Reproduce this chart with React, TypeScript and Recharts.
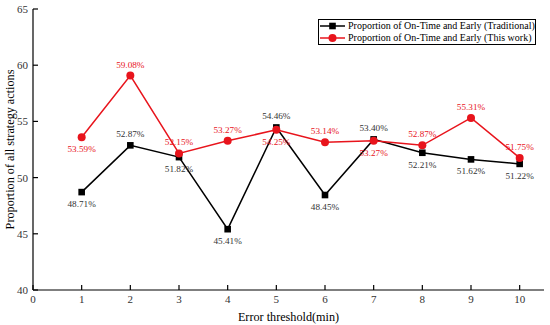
import React from 'react';
import { LineChart, Line, XAxis, YAxis, Legend } from 'recharts';

const thresholds = [1, 2, 3, 4, 5, 6, 7, 8, 9, 10];
const traditional = [48.71, 52.87, 51.82, 45.41, 54.46, 48.45, 53.4, 52.21, 51.62, 51.22];
const thisWork = [53.59, 59.08, 52.15, 53.27, 54.25, 53.14, 53.27, 52.87, 55.31, 51.75];
const traditionalLabelSide = ['below', 'above', 'below', 'below', 'above', 'below', 'above', 'below', 'below', 'below'];
const thisWorkLabelSide = ['below', 'above', 'above', 'above', 'below', 'above', 'below', 'above', 'above', 'above'];
const xTicks = [0, 1, 2, 3, 4, 5, 6, 7, 8, 9, 10];
const yTicks = [40, 45, 50, 55, 60, 65];
const seriesNames = ['Proportion of On-Time and Early (Traditional)', 'Proportion of On-Time and Early (This work)'];

const data = thresholds.map((t, i) => ({ t, trad: traditional[i], work: thisWork[i] }));

const RED = '#e8141c';
const FONT = 'Liberation Serif, DejaVu Serif, serif';

const makeLabel = (sides: string[], color: string) => (props: any) => {
  const { x, y, index, value } = props;
  const above = sides[index] === 'above';
  return (
    <text
      x={x}
      y={above ? y - 8 : y + 15}
      textAnchor="middle"
      fontSize={9.2}
      style={{ fontFamily: FONT }}
      fill={color}
    >
      {Number(value).toFixed(2)}%
    </text>
  );
};

const SquareDot = (props: any) => {
  const { cx, cy } = props;
  if (cx == null || cy == null) return null;
  return <rect x={cx - 3.3} y={cy - 3.3} width={6.6} height={6.6} fill="#000" />;
};

const CircleDot = (props: any) => {
  const { cx, cy } = props;
  if (cx == null || cy == null) return null;
  return <circle cx={cx} cy={cy} r={4} fill={RED} />;
};

const LegendContent = () => (
  <div
    style={{
      border: '1px solid #000',
      background: '#fff',
      fontFamily: FONT,
      fontSize: 10,
      padding: '0px 2px 0px 1px',
      lineHeight: '12px',
      width: 218,
      height: 26,
      boxSizing: 'border-box',
    }}
  >
    {[0, 1].map((i) => (
      <div key={i} style={{ display: 'flex', alignItems: 'center', whiteSpace: 'nowrap', height: 12 }}>
        <svg width={25} height={12} style={{ marginRight: 3, flex: 'none' }}>
          <line x1={0} y1={6} x2={25} y2={6} stroke={i === 0 ? '#000' : RED} strokeWidth={1.5} />
          {i === 0 ? (
            <rect x={9.2} y={2.7} width={6.6} height={6.6} fill="#000" />
          ) : (
            <circle cx={12.5} cy={6} r={4} fill={RED} />
          )}
        </svg>
        <span style={{ color: '#000' }}>{seriesNames[i]}</span>
      </div>
    ))}
  </div>
);

const tickStyle = { fill: '#333', fontSize: 11, style: { fontFamily: FONT } } as any;

export default function App() {
  return (
    <div style={{ position: 'absolute', left: 0, top: 0, background: '#fff', fontFamily: FONT }}>
      <LineChart
        width={550}
        height={325}
        data={data}
        margin={{ top: 9, right: 6, bottom: 0, left: 0 }}
        style={{ fontFamily: FONT }}
      >
        <XAxis
          xAxisId="b"
          dataKey="t"
          type="number"
          domain={[0, 10.5]}
          ticks={xTicks}
          interval={0}
          tickSize={-5}
          tickMargin={10}
          height={35}
          stroke="#000"
          strokeWidth={1.2}
          tick={tickStyle}
          label={{ value: 'Error threshold(min)', position: 'insideBottom', offset: 4, fill: '#000', fontSize: 12.2, style: { fontFamily: FONT } }}
        />
        <XAxis
          xAxisId="t"
          dataKey="t"
          type="number"
          orientation="top"
          domain={[0, 10.5]}
          ticks={xTicks}
          interval={0}
          tickSize={-5}
          height={0}
          stroke="#000"
          strokeWidth={1.2}
          tickFormatter={() => ''}
        />
        <YAxis
          yAxisId="l"
          type="number"
          domain={[40, 65]}
          ticks={yTicks}
          interval={0}
          tickSize={-5}
          tickMargin={10}
          width={33}
          stroke="#000"
          strokeWidth={1.2}
          tick={tickStyle}
          label={{ value: 'Proportion of all strategy actions', angle: -90, position: 'insideLeft', offset: 0, dx: 10, fill: '#000', fontSize: 12.2, style: { fontFamily: FONT, textAnchor: 'middle' } }}
        />
        <YAxis
          yAxisId="r"
          type="number"
          orientation="right"
          domain={[40, 65]}
          ticks={yTicks}
          interval={0}
          tickSize={-5}
          width={0}
          stroke="#000"
          strokeWidth={1.2}
          tickFormatter={() => ''}
        />
        <Legend
          verticalAlign="middle"
          align="center"
          layout="horizontal"
          content={<LegendContent />}
          wrapperStyle={{ position: 'absolute', top: 19, left: 318, width: 218 }}
        />
        <Line
          xAxisId="b"
          yAxisId="l"
          dataKey="trad"
          stroke="#000"
          strokeWidth={1.5}
          dot={<SquareDot />}
          activeDot={false}
          isAnimationActive={false}
          label={makeLabel(traditionalLabelSide, '#333')}
        />
        <Line
          xAxisId="b"
          yAxisId="l"
          dataKey="work"
          stroke={RED}
          strokeWidth={1.5}
          dot={<CircleDot />}
          activeDot={false}
          isAnimationActive={false}
          label={makeLabel(thisWorkLabelSide, RED)}
        />
      </LineChart>
    </div>
  );
}
